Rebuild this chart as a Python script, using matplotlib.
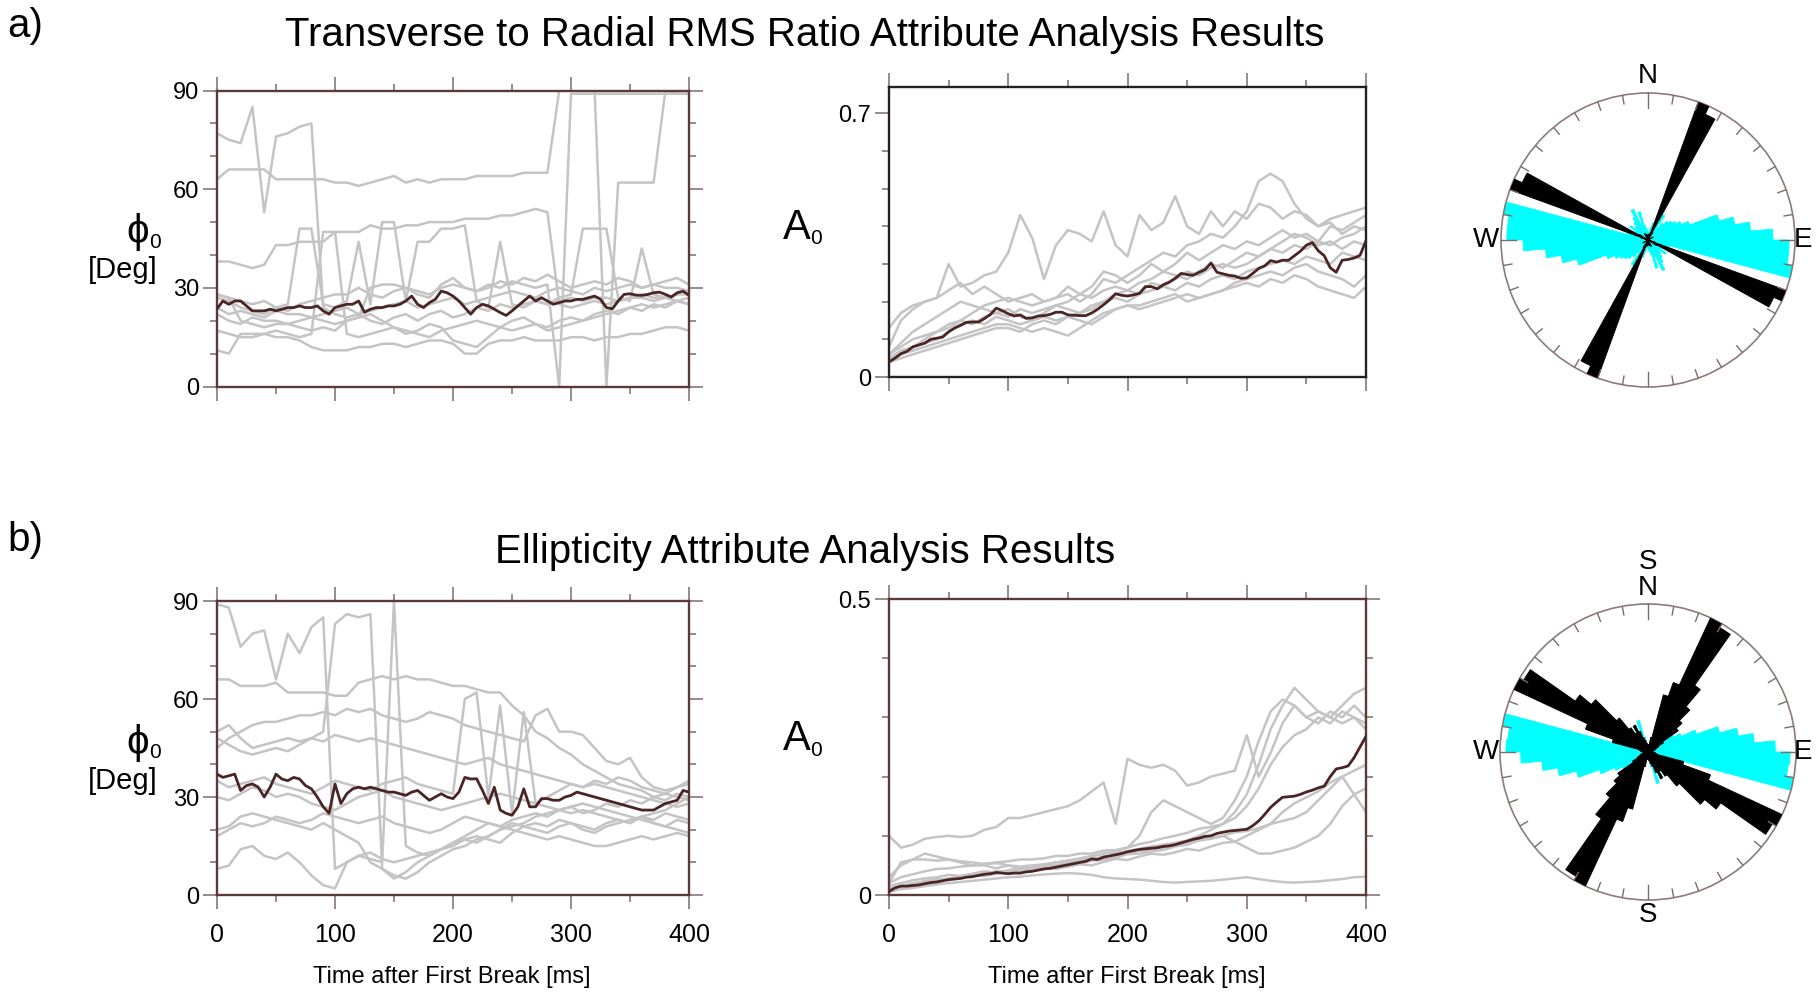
"""Transverse/radial RMS ratio and ellipticity attribute analysis: phi0 and A0
traces after first break, with the rose diagrams of the fitted azimuths."""

import matplotlib
matplotlib.use("Agg")
import matplotlib.pyplot as plt
import numpy as np
from matplotlib.ticker import FixedLocator, MultipleLocator

plt.rcParams["font.family"] = ["Liberation Sans Narrow", "Liberation Sans", "DejaVu Sans"]

GREY = "#c4c4c4"
MEAN_C = "#4b2424"
FRAME = "#5c3838"
FRAME_DARK = "#222222"
TICK_C = "#7d6b6b"
CYAN = "#00ffff"

W, H = 1820, 994

# ---- time axes -------------------------------------------------------------
TIME_10 = list(range(0, 401, 10))
TIME_5 = list(range(0, 401, 5))

# ---- a) transverse/radial RMS ratio: phi0 [deg] ------------------------------
A_PHI_TRACES = [
    [77, 75, 74, 85, 53, 76, 77, 79, 80, 24, 22, 21, 22, 20, 19, 21, 22, 20, 22, 23,
     21, 22, 24, 23, 25, 24, 25, 26, 25, 26, 27, 26, 27, 27, 26, 27, 28, 27, 27, 26, 27],
    [63, 66, 66, 66, 66, 63, 63, 63, 63, 63, 62, 62, 61, 62, 63, 64, 62, 63, 62, 63,
     63, 63, 64, 64, 64, 64, 65, 65, 65, 90, 90, 90, 90, 0, 62, 62, 62, 62, 90, 89, 89],
    [28, 27, 20, 19, 18, 19, 19, 20, 21, 20, 19, 20, 21, 30, 31, 31, 30, 29, 28, 30,
     31, 30, 29, 31, 30, 32, 31, 30, 31, 0, 89, 89, 89, 89, 89, 89, 89, 89, 89, 89, 89],
    [38, 38, 37, 36, 37, 43, 43, 44, 44, 44, 47, 47, 47, 49, 48, 48, 49, 49, 50, 50,
     50, 51, 51, 51, 52, 52, 53, 54, 53, 25, 24, 25, 26, 25, 26, 27, 27, 26, 27, 28, 28],
    [28, 27, 26, 25, 26, 24, 25, 48, 48, 25, 24, 26, 44, 25, 50, 50, 26, 44, 44, 48,
     48, 49, 26, 24, 44, 25, 24, 26, 25, 27, 28, 48, 48, 48, 27, 26, 42, 28, 27, 28, 29],
    [11, 10, 16, 16, 16, 15, 15, 14, 12, 11, 11, 11, 12, 12, 13, 13, 12, 13, 14, 14,
     13, 10, 10, 13, 14, 14, 15, 14, 14, 14, 15, 15, 14, 15, 15, 16, 16, 17, 18, 18, 17],
    [22, 20, 19, 21, 20, 20, 19, 18, 17, 18, 17, 20, 21, 22, 20, 18, 16, 17, 19, 18,
     14, 13, 12, 15, 18, 20, 21, 19, 18, 20, 21, 20, 22, 23, 22, 24, 25, 24, 25, 26, 25],
    [27, 26, 24, 23, 22, 24, 23, 25, 26, 27, 28, 28, 30, 28, 27, 29, 30, 28, 27, 31,
     33, 30, 29, 30, 32, 31, 33, 32, 34, 32, 30, 31, 32, 31, 33, 32, 30, 31, 32, 33, 31],
    [24, 22, 23, 22, 21, 23, 22, 22, 21, 22, 23, 24, 22, 23, 24, 25, 26, 24, 25, 26,
     27, 25, 26, 27, 28, 29, 28, 27, 29, 30, 29, 28, 30, 29, 30, 31, 30, 31, 30, 30, 29],
    [17, 16, 15, 15, 16, 17, 16, 15, 16, 47, 47, 16, 15, 16, 17, 18, 17, 16, 15, 17,
     18, 19, 20, 19, 18, 17, 18, 19, 17, 18, 19, 20, 21, 22, 23, 24, 23, 25, 24, 26, 25],
]
A_PHI_MEAN = [
    23.6, 26, 25, 26, 26, 24.5, 23, 23, 23, 23.5,
    23, 23.5, 24, 24, 24.5, 24, 24, 24.5, 23, 22,
    24, 24.5, 25, 25, 26, 22.6, 23.5, 24, 24, 24.5,
    24.5, 25, 26, 27.5, 25, 24, 25.5, 26.5, 29, 28.5,
    27.5, 26, 24, 22, 24, 25, 24.5, 23.5, 22.5, 21.6,
    23, 24.5, 26, 27.5, 26, 27, 26, 25, 25.5, 26,
    26, 26.5, 26.5, 27, 27.5, 26.5, 24, 23.6, 26, 28,
    28.2, 27.8, 27.7, 28, 28.5, 28.7, 28, 27.2, 28.5, 29,
    27.7,
]

# ---- a) A0 --------------------------------------------------------------------
A_AMP_TRACES = [
    [0.08, 0.15, 0.18, 0.20, 0.21, 0.30, 0.24, 0.25, 0.27, 0.28, 0.33, 0.43, 0.37, 0.26,
     0.35, 0.39, 0.38, 0.36, 0.44, 0.35, 0.32, 0.43, 0.39, 0.41, 0.48, 0.40, 0.38, 0.44,
     0.40, 0.44, 0.42, 0.46, 0.45, 0.42, 0.44, 0.43, 0.40, 0.42, 0.43, 0.44, 0.45],
    [0.06, 0.08, 0.10, 0.11, 0.12, 0.14, 0.15, 0.17, 0.19, 0.20, 0.21, 0.20, 0.19, 0.20,
     0.21, 0.22, 0.20, 0.22, 0.26, 0.25, 0.27, 0.29, 0.31, 0.33, 0.32, 0.35, 0.36, 0.38,
     0.37, 0.40, 0.44, 0.52, 0.54, 0.52, 0.46, 0.42, 0.40, 0.41, 0.38, 0.40, 0.39],
    [0.13, 0.17, 0.19, 0.20, 0.21, 0.23, 0.25, 0.22, 0.24, 0.22, 0.20, 0.21, 0.22, 0.20,
     0.21, 0.24, 0.22, 0.24, 0.28, 0.27, 0.25, 0.27, 0.30, 0.28, 0.30, 0.33, 0.31, 0.33,
     0.35, 0.34, 0.36, 0.35, 0.37, 0.39, 0.37, 0.38, 0.36, 0.40, 0.39, 0.41, 0.43],
    [0.04, 0.06, 0.07, 0.08, 0.09, 0.10, 0.11, 0.12, 0.13, 0.14, 0.14, 0.13, 0.12, 0.13,
     0.12, 0.11, 0.13, 0.15, 0.17, 0.18, 0.19, 0.19, 0.20, 0.21, 0.22, 0.20, 0.21, 0.22,
     0.23, 0.25, 0.26, 0.27, 0.28, 0.27, 0.29, 0.30, 0.28, 0.27, 0.26, 0.24, 0.27],
    [0.05, 0.06, 0.08, 0.09, 0.10, 0.12, 0.14, 0.15, 0.14, 0.16, 0.15, 0.14, 0.15, 0.16,
     0.15, 0.16, 0.17, 0.18, 0.20, 0.21, 0.20, 0.22, 0.23, 0.24, 0.23, 0.25, 0.24, 0.26,
     0.27, 0.26, 0.28, 0.29, 0.30, 0.31, 0.30, 0.32, 0.31, 0.30, 0.33, 0.32, 0.31],
    [0.05, 0.07, 0.08, 0.10, 0.12, 0.13, 0.15, 0.14, 0.16, 0.17, 0.16, 0.18, 0.17, 0.18,
     0.19, 0.18, 0.17, 0.19, 0.20, 0.22, 0.23, 0.22, 0.25, 0.24, 0.26, 0.28, 0.27, 0.29,
     0.30, 0.29, 0.30, 0.32, 0.34, 0.33, 0.35, 0.34, 0.36, 0.35, 0.37, 0.38, 0.40],
    [0.06, 0.09, 0.12, 0.14, 0.16, 0.18, 0.20, 0.19, 0.18, 0.17, 0.18, 0.16, 0.15, 0.17,
     0.19, 0.20, 0.22, 0.21, 0.23, 0.24, 0.23, 0.25, 0.26, 0.28, 0.27, 0.26, 0.28, 0.30,
     0.29, 0.31, 0.33, 0.32, 0.34, 0.36, 0.38, 0.37, 0.35, 0.36, 0.34, 0.36, 0.35],
    [0.04, 0.05, 0.06, 0.07, 0.08, 0.09, 0.10, 0.11, 0.12, 0.13, 0.13, 0.12, 0.14, 0.15,
     0.14, 0.16, 0.15, 0.14, 0.16, 0.18, 0.19, 0.18, 0.19, 0.20, 0.21, 0.22, 0.21, 0.22,
     0.23, 0.24, 0.25, 0.24, 0.26, 0.25, 0.27, 0.26, 0.24, 0.23, 0.22, 0.21, 0.24],
]
A_AMP_MEAN = [
    0.04, 0.05, 0.062, 0.068, 0.08, 0.085, 0.09, 0.1, 0.103, 0.106,
    0.12, 0.13, 0.137, 0.145, 0.146, 0.146, 0.155, 0.166, 0.183, 0.176,
    0.168, 0.162, 0.165, 0.156, 0.157, 0.162, 0.163, 0.166, 0.172, 0.172,
    0.165, 0.164, 0.163, 0.163, 0.17, 0.18, 0.192, 0.205, 0.221, 0.217,
    0.215, 0.218, 0.222, 0.24, 0.24, 0.234, 0.245, 0.252, 0.262, 0.275,
    0.272, 0.27, 0.278, 0.285, 0.303, 0.278, 0.274, 0.27, 0.268, 0.262,
    0.263, 0.275, 0.288, 0.295, 0.309, 0.305, 0.31, 0.31, 0.322, 0.334,
    0.35, 0.357, 0.335, 0.322, 0.29, 0.278, 0.31, 0.312, 0.316, 0.323,
    0.362,
]

# ---- b) ellipticity: phi0 [deg] ----------------------------------------------
B_PHI_TRACES = [
    [89, 88, 76, 80, 81, 66, 80, 74, 82, 85, 8, 10, 12, 11, 10, 90, 15, 13, 12, 14,
     15, 17, 16, 18, 20, 22, 21, 20, 19, 21, 22, 20, 19, 21, 22, 23, 24, 22, 21, 23, 22],
    [50, 52, 48, 45, 46, 47, 48, 47, 48, 50, 83, 86, 85, 86, 8, 5, 7, 10, 12, 14,
     16, 18, 20, 22, 21, 23, 24, 25, 24, 26, 27, 25, 26, 28, 27, 29, 28, 30, 29, 31, 30],
    [66, 66, 64, 64, 64, 65, 62, 62, 62, 62, 61, 61, 65, 66, 67, 66, 67, 66, 66, 65,
     64, 64, 63, 62, 62, 58, 55, 50, 48, 45, 43, 40, 38, 36, 34, 33, 32, 30, 31, 30, 29],
    [45, 48, 50, 52, 53, 53, 54, 55, 55, 56, 55, 57, 56, 57, 55, 54, 53, 54, 56, 55,
     54, 52, 51, 50, 49, 48, 47, 55, 57, 50, 50, 49, 45, 41, 40, 42, 36, 33, 32, 33, 35],
    [48, 46, 44, 43, 44, 45, 44, 46, 48, 47, 49, 48, 47, 48, 47, 46, 45, 44, 43, 42,
     41, 40, 41, 42, 40, 39, 38, 37, 36, 35, 34, 33, 34, 33, 32, 31, 30, 29, 28, 27, 28],
    [30, 29, 31, 33, 32, 30, 31, 30, 28, 27, 26, 28, 30, 31, 32, 30, 29, 28, 27, 26,
     27, 28, 29, 30, 31, 30, 29, 28, 27, 26, 25, 26, 25, 24, 23, 22, 24, 25, 26, 28, 30],
    [18, 20, 22, 21, 22, 24, 23, 22, 23, 25, 24, 23, 22, 23, 24, 22, 21, 20, 19, 20,
     22, 24, 23, 22, 21, 20, 19, 18, 17, 18, 17, 16, 15, 15, 16, 17, 18, 17, 18, 19, 18],
    [8, 9, 14, 15, 12, 11, 13, 10, 6, 3, 2, 10, 12, 13, 11, 10, 11, 12, 13, 14,
     16, 17, 18, 17, 16, 19, 21, 22, 21, 23, 22, 21, 20, 22, 23, 22, 24, 23, 25, 24, 23],
    [20, 21, 24, 25, 24, 23, 22, 21, 20, 22, 20, 18, 16, 10, 8, 6, 5, 7, 10, 12,
     14, 15, 17, 18, 20, 21, 22, 24, 25, 26, 27, 28, 27, 26, 25, 24, 23, 22, 21, 20, 19],
    [35, 33, 34, 35, 36, 34, 33, 32, 31, 33, 35, 34, 33, 32, 34, 35, 36, 34, 33, 32,
     31, 60, 62, 30, 58, 25, 56, 28, 30, 32, 34, 33, 35, 34, 36, 35, 33, 32, 31, 33, 34],
]
B_PHI_MEAN = [
    37, 36, 36.5, 37, 32, 33.5, 34, 33, 30, 33,
    37, 35.5, 35, 36, 35.5, 33.5, 32.5, 30, 27, 25,
    34, 28, 31, 32.5, 33, 32.5, 33, 32.5, 32, 31.5,
    31.5, 31, 30.5, 31.5, 32, 30.5, 29, 30, 31, 30,
    29.5, 31.5, 36, 35.5, 35.6, 32, 28, 33, 26, 25,
    24.4, 27, 32.5, 27, 27, 29.5, 29.5, 29, 29, 30,
    30.5, 31.5, 31, 30.5, 30, 29.5, 29, 28.5, 28, 27.5,
    27, 26.5, 26, 26, 26, 27, 28, 28.5, 29, 32,
    31.5,
]

# ---- b) A0 --------------------------------------------------------------------
B_AMP_TRACES = [
    [0.1, 0.08, 0.085, 0.095, 0.098, 0.1, 0.098, 0.1, 0.11, 0.115, 0.13, 0.13, 0.135, 0.14,
     0.145, 0.15, 0.16, 0.175, 0.19, 0.12, 0.23, 0.22, 0.215, 0.22, 0.21, 0.185, 0.19, 0.2,
     0.205, 0.21, 0.27, 0.2, 0.24, 0.29, 0.32, 0.3, 0.31, 0.3, 0.29, 0.3, 0.29],
    [0.03, 0.05, 0.06, 0.07, 0.065, 0.06, 0.055, 0.05, 0.05, 0.045, 0.05, 0.048, 0.05, 0.052,
     0.055, 0.058, 0.06, 0.065, 0.07, 0.075, 0.08, 0.1, 0.14, 0.16, 0.15, 0.14, 0.13, 0.12,
     0.13, 0.16, 0.2, 0.26, 0.31, 0.33, 0.32, 0.3, 0.29, 0.31, 0.3, 0.32, 0.3],
    [0.02, 0.055, 0.06, 0.06, 0.058, 0.06, 0.057, 0.055, 0.052, 0.054, 0.05, 0.045, 0.048,
     0.05, 0.055, 0.058, 0.062, 0.066, 0.07, 0.072, 0.074, 0.078, 0.082, 0.085, 0.088, 0.092,
     0.1, 0.11, 0.12, 0.13, 0.15, 0.18, 0.22, 0.25, 0.27, 0.28, 0.3, 0.29, 0.31, 0.3, 0.28],
    [0.005, 0.01, 0.012, 0.015, 0.018, 0.02, 0.022, 0.024, 0.026, 0.028, 0.03, 0.031, 0.033,
     0.035, 0.036, 0.037, 0.036, 0.034, 0.03, 0.028, 0.027, 0.026, 0.024, 0.022, 0.021,
     0.022, 0.023, 0.024, 0.026, 0.028, 0.03, 0.027, 0.024, 0.022, 0.021, 0.022, 0.023,
     0.025, 0.027, 0.03, 0.031],
    [0.01, 0.015, 0.02, 0.022, 0.027, 0.025, 0.03, 0.034, 0.032, 0.036, 0.04, 0.038, 0.042,
     0.046, 0.044, 0.048, 0.052, 0.05, 0.056, 0.061, 0.059, 0.065, 0.07, 0.068, 0.072, 0.078,
     0.075, 0.082, 0.088, 0.09, 0.1, 0.11, 0.12, 0.14, 0.155, 0.165, 0.175, 0.19, 0.2, 0.17,
     0.14],
    [0.015, 0.02, 0.025, 0.028, 0.03, 0.034, 0.032, 0.036, 0.04, 0.038, 0.042, 0.045, 0.044,
     0.046, 0.05, 0.048, 0.053, 0.058, 0.06, 0.063, 0.069, 0.07, 0.074, 0.076, 0.082, 0.085,
     0.092, 0.095, 0.1, 0.09, 0.08, 0.07, 0.07, 0.075, 0.08, 0.09, 0.1, 0.12, 0.15, 0.17,
     0.18],
    [0.01, 0.014, 0.018, 0.024, 0.025, 0.028, 0.032, 0.033, 0.036, 0.04, 0.04, 0.042, 0.046,
     0.047, 0.05, 0.055, 0.056, 0.06, 0.065, 0.066, 0.07, 0.075, 0.076, 0.08, 0.086, 0.088,
     0.094, 0.096, 0.1, 0.106, 0.108, 0.113, 0.12, 0.125, 0.13, 0.14, 0.16, 0.18, 0.2, 0.21,
     0.22],
    [0.02, 0.03, 0.035, 0.04, 0.044, 0.045, 0.048, 0.05, 0.053, 0.055, 0.057, 0.06, 0.06,
     0.062, 0.066, 0.066, 0.07, 0.07, 0.075, 0.076, 0.08, 0.086, 0.09, 0.096, 0.1, 0.105,
     0.112, 0.115, 0.12, 0.14, 0.17, 0.22, 0.28, 0.32, 0.35, 0.33, 0.31, 0.3, 0.32, 0.34,
     0.35],
]
B_AMP_MEAN = [
    0.006, 0.012, 0.015, 0.015, 0.016, 0.017, 0.019, 0.021, 0.022, 0.024,
    0.026, 0.027, 0.028, 0.03, 0.031, 0.033, 0.035, 0.036, 0.038, 0.037,
    0.036, 0.037, 0.037, 0.039, 0.04, 0.042, 0.044, 0.045, 0.047, 0.049,
    0.051, 0.053, 0.055, 0.057, 0.061, 0.06, 0.064, 0.066, 0.068, 0.07,
    0.073, 0.075, 0.077, 0.078, 0.079, 0.08, 0.082, 0.083, 0.085, 0.088,
    0.091, 0.094, 0.096, 0.099, 0.1, 0.104, 0.106, 0.108, 0.109, 0.11,
    0.111, 0.117, 0.125, 0.136, 0.148, 0.157, 0.165, 0.166, 0.167, 0.17,
    0.174, 0.177, 0.181, 0.184, 0.2, 0.213, 0.215, 0.218, 0.232, 0.25,
    0.268,
]

# ---- rose diagrams (axial: each bin drawn at az and az+180) ------------------
ROSE_CYAN_START = list(range(0, 180, 5))
ROSE_CYAN_WIDTH = 5
ROSE_A_CYAN_R = [0.05, 0.04, 0.08, 0.12, 0.1, 0.06, 0.2, 0.1, 0.15, 0.18,
                 0.2, 0.22, 0.25, 0.3, 0.5, 0.6, 0.7, 0.85, 0.96, 0.96,
                 1.0, 0.15, 0.1, 0.12, 0.1, 0.15, 0.1, 0.12, 0.15, 0.18,
                 0.23, 0.12, 0.2, 0.1, 0.08, 0.06]
ROSE_B_CYAN_R = [0.04, 0.05, 0.06, 0.1, 0.08, 0.05, 0.06, 0.08, 0.1, 0.12,
                 0.15, 0.2, 0.25, 0.35, 0.5, 0.62, 0.72, 0.86, 0.96, 0.95,
                 1.0, 0.12, 0.08, 0.06, 0.05, 0.06, 0.05, 0.08, 0.1, 0.12,
                 0.2, 0.15, 0.22, 0.1, 0.06, 0.05]

ROSE_A_BLACK_START = [0, 15.5, 20, 24.5, 29, 60, 105.5, 110, 114.5, 119, 150, 165]
ROSE_A_BLACK_WIDTH = 4.5
ROSE_A_BLACK_R = [0.04, 0.05, 1.0, 0.94, 0.06, 0.04, 0.05, 1.0, 0.94, 0.07, 0.05, 0.04]

ROSE_B_BLACK_START = list(range(0, 180, 5))
ROSE_B_BLACK_WIDTH = 5
ROSE_B_BLACK_R = [0.05, 0.04, 0.1, 0.4, 0.5, 1.0, 0.97, 0.55, 0.4, 0.3,
                  0.25, 0.12, 0.08, 0.06, 0.05, 0.04, 0.03, 0.03, 0.04, 0.05,
                  0.06, 0.25, 0.45, 1.0, 0.97, 0.6, 0.5, 0.3, 0.2, 0.15,
                  0.2, 0.15, 0.1, 0.08, 0.06, 0.05]


def box(left, top, right, bottom):
    """Pixel box of the reference -> figure fraction rect."""
    return [left / W, 1 - bottom / H, (right - left) / W, (bottom - top) / H]


def ftext(fig, x, y, s, **kw):
    fig.text(x / W, 1 - y / H, s, ha="center", va="center", **kw)


def style(ax, frame, right=True):
    for sp in ax.spines.values():
        sp.set_color(frame)
        sp.set_linewidth(1.7)
    ax.tick_params(which="both", direction="out", top=True, right=right,
                   color=TICK_C, width=1.1, labelsize=17, pad=3)
    ax.tick_params(which="major", length=10)
    ax.tick_params(which="minor", length=5)
    ax.xaxis.set_major_locator(MultipleLocator(100))
    ax.xaxis.set_minor_locator(MultipleLocator(50))
    ax.set_xlim(0, 400)


def traces(ax, traces_, mean):
    for tr in traces_:
        ax.plot(TIME_10, tr, color=GREY, lw=1.8, zorder=2)
    ax.plot(TIME_5, mean, color=MEAN_C, lw=2.0, zorder=3)


def phi_panel(ax, traces_, mean, bottom_labels):
    traces(ax, traces_, mean)
    style(ax, FRAME)
    ax.set_ylim(0, 90)
    ax.set_yticks([0, 30, 60, 90])
    ax.yaxis.set_minor_locator(MultipleLocator(10))
    if bottom_labels:
        ax.tick_params(axis="x", labelsize=18, pad=10)
    else:
        ax.tick_params(axis="x", labelbottom=False)


def amp_panel(ax, traces_, mean, ytop, ylabel_top, frame, right, bottom_labels):
    traces(ax, traces_, mean)
    style(ax, frame, right=right)
    ax.set_ylim(0, ytop)
    ax.set_yticks([0, ylabel_top])
    ax.set_yticklabels(["0", f"{ylabel_top:g}"])
    ax.yaxis.set_minor_locator(FixedLocator([v / 10 for v in range(1, int(round(ylabel_top * 10)))]))
    if bottom_labels:
        ax.tick_params(axis="x", labelsize=18, pad=10)
    else:
        ax.tick_params(axis="x", labelbottom=False)


def rose(ax, cyan_r, black_start, black_w, black_r):
    ax.set_theta_zero_location("N")
    ax.set_theta_direction(-1)
    # edge in the face colour hides the hairline seams between adjacent bins
    for off in (0, 180):
        ax.bar(np.deg2rad(np.asarray(ROSE_CYAN_START) + off), cyan_r,
               width=np.deg2rad(ROSE_CYAN_WIDTH), align="edge", color=CYAN,
               edgecolor=CYAN, linewidth=0.6, zorder=2)
    for off in (0, 180):
        ax.bar(np.deg2rad(np.asarray(black_start) + off), black_r,
               width=np.deg2rad(black_w), align="edge", color="black",
               edgecolor="black", linewidth=0.6, zorder=3)
    for ang in range(0, 360, 10):
        r0 = 0.9 if ang % 90 == 0 else 0.94
        ax.plot([np.deg2rad(ang)] * 2, [r0, 1.0], color=TICK_C, lw=1.0, zorder=4)
    ax.set_ylim(0, 1)
    ax.set_xticks([])
    ax.set_yticks([])
    ax.grid(False)
    ax.spines["polar"].set_color("#8c7b7b")
    ax.spines["polar"].set_linewidth(1.2)


def main():
    fig = plt.figure(figsize=(W / 100, H / 100), dpi=100)

    title_kw = dict(fontsize=29, family=["Liberation Sans", "DejaVu Sans"])
    ftext(fig, 25, 26, "a)", **title_kw)
    ftext(fig, 805, 35, "Transverse to Radial RMS Ratio Attribute Analysis Results", **title_kw)
    ftext(fig, 25, 540, "b)", **title_kw)
    ftext(fig, 805, 552, "Ellipticity Attribute Analysis Results", **title_kw)

    ax = fig.add_axes(box(217, 90.5, 689, 386.5))
    phi_panel(ax, A_PHI_TRACES, A_PHI_MEAN, bottom_labels=False)
    ax = fig.add_axes(box(889, 87, 1366, 377))
    amp_panel(ax, A_AMP_TRACES, A_AMP_MEAN, 0.77, 0.7, FRAME_DARK, right=False,
              bottom_labels=False)
    ax = fig.add_axes(box(217, 601, 689, 895))
    phi_panel(ax, B_PHI_TRACES, B_PHI_MEAN, bottom_labels=True)
    ax = fig.add_axes(box(889, 599, 1366, 895))
    amp_panel(ax, B_AMP_TRACES, B_AMP_MEAN, 0.5, 0.5, FRAME, right=True,
              bottom_labels=True)

    lab_kw = dict(family=["Liberation Sans", "DejaVu Sans"], color="black")
    for y0 in (0, 511):
        ftext(fig, 138, 232 + y0, "ϕ", fontsize=29, **lab_kw)
        ftext(fig, 155, 242 + y0, "0", fontsize=15, **lab_kw)
        ftext(fig, 123, 270 + y0, "[Deg]", fontsize=21, **lab_kw)
        ftext(fig, 797, 228 + y0, "A", fontsize=30, **lab_kw)
        ftext(fig, 816, 239 + y0, "0", fontsize=15, **lab_kw)
    for xc in (452, 1127):
        ftext(fig, xc, 977, "Time after First Break [ms]", fontsize=17)

    ax = fig.add_axes(box(1501, 93, 1795, 387), projection="polar")
    rose(ax, ROSE_A_CYAN_R, ROSE_A_BLACK_START, ROSE_A_BLACK_WIDTH, ROSE_A_BLACK_R)
    ax = fig.add_axes(box(1500, 604, 1796, 900), projection="polar")
    rose(ax, ROSE_B_CYAN_R, ROSE_B_BLACK_START, ROSE_B_BLACK_WIDTH, ROSE_B_BLACK_R)

    dir_kw = dict(fontsize=20, family=["Liberation Sans", "DejaVu Sans"])
    ftext(fig, 1648, 76, "N", **dir_kw)
    ftext(fig, 1486, 240, "W", **dir_kw)
    ftext(fig, 1803, 240, "E", **dir_kw)
    ftext(fig, 1648, 562, "S", **dir_kw)
    ftext(fig, 1648, 588, "N", **dir_kw)
    ftext(fig, 1486, 752, "W", **dir_kw)
    ftext(fig, 1803, 752, "E", **dir_kw)
    ftext(fig, 1648, 915, "S", **dir_kw)

    fig.savefig("out.png", dpi=100)


if __name__ == "__main__":
    main()
